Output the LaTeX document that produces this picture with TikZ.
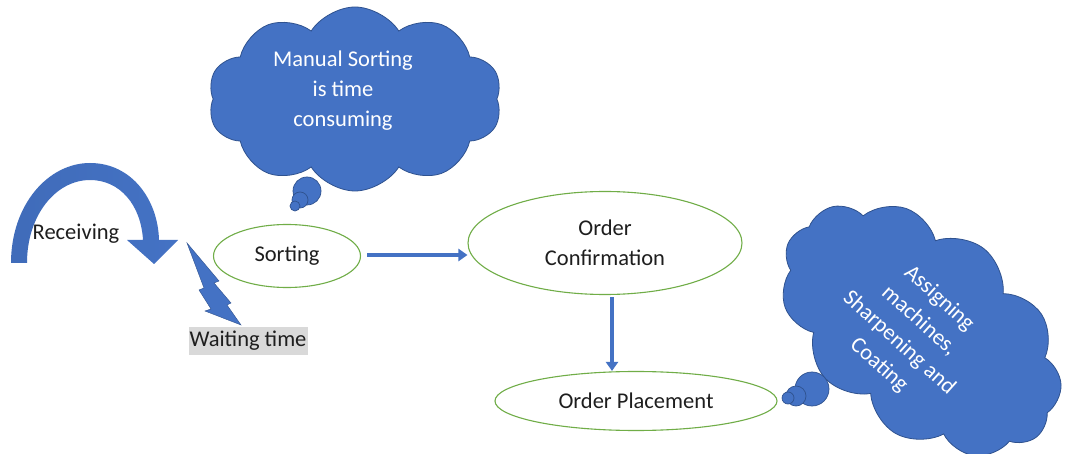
\documentclass[tikz,border=0pt]{standalone}
\usepackage{fontspec}
\setmainfont{Carlito}
\usetikzlibrary{shapes.geometric,shapes.symbols,arrows.meta}
\definecolor{ofblue}{RGB}{68,114,196}
\definecolor{ofdark}{RGB}{47,82,143}
\definecolor{ofgreen}{RGB}{112,173,71}
\definecolor{txt}{RGB}{30,30,30}
\definecolor{hl}{RGB}{217,217,217}
\tikzset{
  stage/.style={ellipse, draw=ofgreen, line width=1.1pt, fill=white, text=txt, align=center, inner sep=0pt},
  thought/.style={cloud, cloud puffs=10, cloud puff arc=115, aspect=1.6, fill=ofblue, draw=ofdark, line width=0.8pt, inner sep=0pt},
  bubble/.style={circle, fill=ofblue, draw=ofdark, line width=0.7pt, inner sep=0pt},
  flow/.style={draw=ofblue, line width=4.5pt, -{Triangle[length=9pt,width=12pt]}},
  plain/.style={text=txt, inner sep=0pt},
  cloudtext/.style={text=white, align=center, inner sep=0pt}
}
\begin{document}
\begin{tikzpicture}[x=1pt,y=-1pt,font=\fontsize{22.5}{30}\selectfont]
\useasboundingbox (0,0) rectangle (1066,454);
\fill[white] (0,0) rectangle (1066,454);

% thought cloud 1
\node[thought, minimum width=294pt, minimum height=184pt] (c1) at (355,99) {};
\node[bubble, minimum size=28pt] (c1b1) at (307,191) {};
\node[bubble, minimum size=16pt] (c1b2) at (300,200) {};
\node[bubble, minimum size=10pt] (c1b3) at (295,206) {};
\node[cloudtext] (c1t) at (343,91) {Manual Sorting\\is time\\consuming};

% thought cloud 2
\node[thought, cloud puffs=11, rotate=-38, minimum width=318pt, minimum height=204pt] (c2) at (921,329) {};
\node[bubble, minimum size=34pt] (c2b1) at (812,389) {};
\node[bubble, minimum size=20pt] (c2b2) at (796,396) {};
\node[bubble, minimum size=12pt] (c2b3) at (788,398) {};
\node[cloudtext, rotate=-42] (c2t) at (909,332) {Assigning\\machines,\\Sharpening and\\Coating};

% curved arrow
\shade[left color=ofblue!80!ofdark, right color=ofblue]
  (11,263) .. controls (11,205) and (48,163) .. (90,163)
  .. controls (132,163) and (158,200) .. (159,240)
  -- (178,240) -- (154,264) -- (127,240) -- (143,240)
  .. controls (141,205) and (120,180) .. (90,180)
  .. controls (56,180) and (27,215) .. (27,263) -- cycle;
\node[plain] (recv) at (76,234) {Receiving};

% lightning bolt
\fill[ofblue, draw=ofdark, line width=0.4pt]
  (187,243) -- (219,281) -- (214,283) -- (231,303) -- (227,305) -- (241,325)
  -- (205,311) -- (211,309) -- (199,290) -- (204,288) -- cycle;
\node[fill=hl, text=txt, inner xsep=1pt, inner ysep=2pt, minimum width=119pt, minimum height=28pt] (wait) at (248,341) {Waiting time};

% stages
\node[stage, minimum width=147pt, minimum height=63pt] (sort) at (287,256) {Sorting};
\node[stage, minimum width=274pt, minimum height=103pt] (conf) at (605,243) {Order\\Confirmation};
\node[stage, minimum width=282pt, minimum height=59pt] (place) at (636,401) {Order Placement};

\draw[flow, shorten <=6pt] ([yshift=1pt]sort.east) -- ([yshift=1pt]sort.east -| conf.west);
\draw[flow, shorten <=2pt] ([xshift=7pt]conf.south) -- ([xshift=7pt]conf.south |- place.north);
\end{tikzpicture}
\end{document}
